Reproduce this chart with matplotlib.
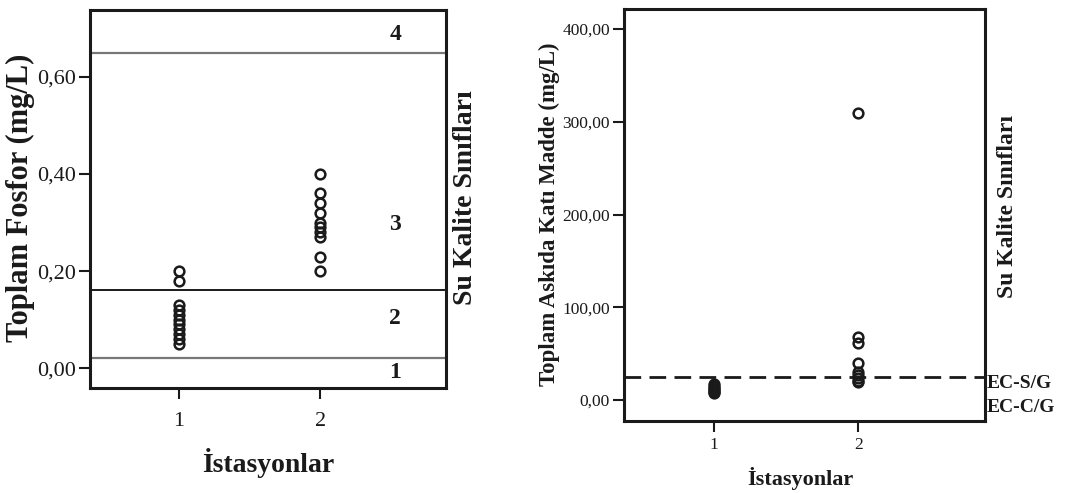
import matplotlib
matplotlib.use("Agg")
import matplotlib.pyplot as plt
import numpy as np

plt.rcParams['font.family'] = ['Liberation Serif', 'DejaVu Serif']

# data
fosfor_ist1 = [0.20, 0.18, 0.13, 0.12, 0.11, 0.10, 0.09, 0.08, 0.07, 0.06, 0.05]
fosfor_ist2 = [0.40, 0.36, 0.34, 0.32, 0.30, 0.29, 0.28, 0.27, 0.23, 0.20]
fosfor_sinir = [0.65, 0.16, 0.02]            # class limits
fosfor_sinif = ['4', '3', '2', '1']
fosfor_sinif_y = [0.687, 0.295, 0.103, -0.01]

akm_ist1 = [17, 15, 13, 12, 10, 9, 8]
akm_ist2 = [310, 68, 61, 40, 30, 27, 24, 21, 19]
akm_sinir = 25
akm_etiket = ['EC-S/G', 'EC-C/G']
akm_etiket_y = [18, -8]

istasyon = [1, 2]

ink = '#1a1a1a'
W, H = 1073, 493
fig = plt.figure(figsize=(W / 100, H / 100), dpi=100)

def style(ax, size):
    for s in ax.spines.values():
        s.set_linewidth(2.2)
        s.set_color(ink)
    ax.tick_params(axis='both', direction='out', length=8, width=1.5, color=ink,
                   labelcolor=ink, labelsize=size, right=False, top=False)
    ax.tick_params(axis='y', pad=2)

def ftext(x, y, s, **kw):
    # place text by pixel position from top-left
    fig.text(x / W, 1 - y / H, s, ha='center', va='center', fontweight='bold',
             color=ink, **kw)

# ---- left panel: total phosphorus
ax1 = fig.add_axes([90 / W, 1 - 388 / H, 356 / W, 378 / H])
ax1.plot(np.full(len(fosfor_ist1), istasyon[0]), fosfor_ist1, 'o', mfc='none',
         mec=ink, ms=7, mew=1.8)
ax1.plot(np.full(len(fosfor_ist2), istasyon[1]), fosfor_ist2, 'o', mfc='none',
         mec=ink, ms=7, mew=1.8)
ax1.axhline(fosfor_sinir[0], color='#777777', lw=1.6)
ax1.axhline(fosfor_sinir[1], color=ink, lw=1.4)
ax1.axhline(fosfor_sinir[2], color='#777777', lw=1.6)
for t, y in zip(fosfor_sinif, fosfor_sinif_y):
    ax1.text(2.53, y, t, ha='center', va='center', fontsize=17,
             fontweight='bold', color=ink)
ax1.set_xlim(0.37, 2.89)
ax1.set_ylim(-0.041, 0.738)
ax1.set_xticks(istasyon)
ax1.set_yticks([0.0, 0.2, 0.4, 0.6])
ax1.set_yticklabels(['0,00', '0,20', '0,40', '0,60'])
style(ax1, 16)
ax1.tick_params(axis='x', pad=9)
ftext(20, 198, 'Toplam Fosfor (mg/L)', rotation=90, fontsize=22)
ftext(268, 463, 'İstasyonlar', fontsize=20)
ftext(466, 198, 'Su Kalite Sınıfları', rotation=90, fontsize=20)

# ---- right panel: total suspended solids
ax2 = fig.add_axes([624 / W, 1 - 421 / H, 361 / W, 412 / H])
ax2.plot(np.full(len(akm_ist1), istasyon[0]), akm_ist1, 'o', mfc='none',
         mec=ink, ms=7, mew=1.8)
ax2.plot(np.full(len(akm_ist2), istasyon[1]), akm_ist2, 'o', mfc='none',
         mec=ink, ms=7, mew=1.8)
ax2.axhline(akm_sinir, color=ink, lw=2, ls=(0, (6, 3)))
for t, y in zip(akm_etiket, akm_etiket_y):
    ax2.text(2.89, y, t, ha='left', va='center', fontsize=14,
             fontweight='bold', color=ink, clip_on=False)
ax2.set_xlim(0.375, 2.88)
ax2.set_ylim(-22.6, 421.6)
ax2.set_xticks(istasyon)
ax2.set_yticks([0, 100, 200, 300, 400])
ax2.set_yticklabels(['0,00', '100,00', '200,00', '300,00', '400,00'])
style(ax2, 12.5)
ftext(549, 214, 'Toplam Askıda Katı Madde (mg/L)', rotation=90, fontsize=16.5)
ftext(800, 478, 'İstasyonlar', fontsize=16)
ftext(1008, 207, 'Su Kalite Sınıfları', rotation=90, fontsize=17)

fig.savefig('out.png', dpi=100)
